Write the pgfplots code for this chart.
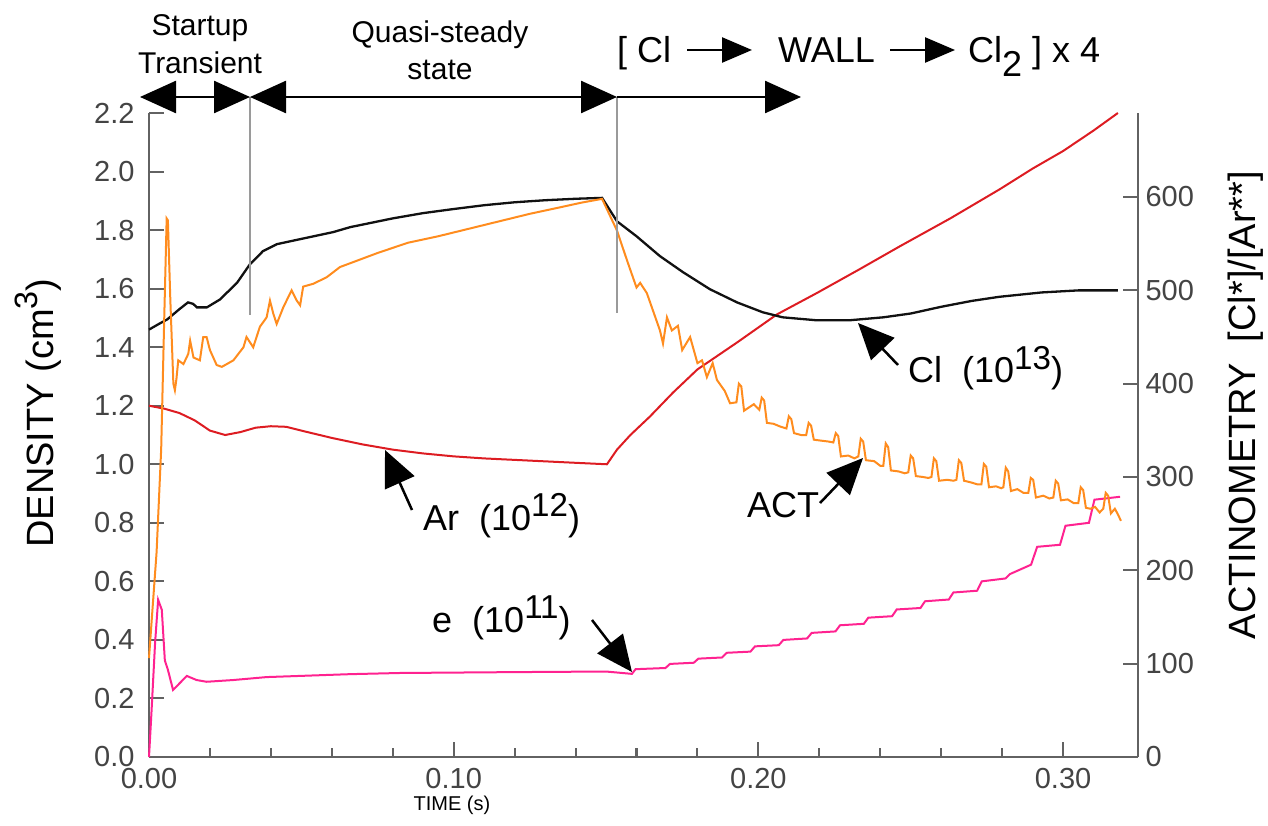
\documentclass[border=0pt]{standalone}
\usepackage{fontspec}
\setmainfont{Liberation Sans}
\usepackage{graphicx}
\usepackage{pgfplots}
\usepackage{pgfplotstable}
\pgfplotsset{compat=1.18}
\usetikzlibrary{arrows.meta}
\definecolor{cblack}{HTML}{111111}
\definecolor{corange}{HTML}{FF8C1E}
\definecolor{cred}{HTML}{DD1C22}
\definecolor{cpink}{HTML}{FF2290}
\definecolor{spine}{HTML}{626262}
\definecolor{ticktxt}{HTML}{444444}
\definecolor{vgray}{HTML}{9A9A9A}

\pgfplotstableread{
x y
0 1.460
0.003 1.478
0.006 1.495
0.010 1.530
0.0128 1.553
0.0145 1.548
0.0157 1.536
0.019 1.536
0.0233 1.563
0.0289 1.620
0.0331 1.683
0.0374 1.728
0.042 1.752
0.0496 1.769
0.0604 1.793
0.066 1.810
0.080 1.840
0.090 1.858
0.100 1.872
0.110 1.885
0.120 1.895
0.130 1.902
0.140 1.907
0.1487 1.910
0.1536 1.830
0.160 1.779
0.1677 1.711
0.1753 1.656
0.1841 1.598
0.193 1.553
0.2015 1.519
0.208 1.502
0.219 1.492
0.230 1.492
0.241 1.502
0.250 1.515
0.260 1.538
0.270 1.558
0.279 1.572
0.293 1.587
0.305 1.594
0.318 1.594
}\tblack

\pgfplotstableread{
x y
0 1.200
0.005 1.190
0.010 1.175
0.015 1.150
0.020 1.115
0.025 1.100
0.030 1.110
0.035 1.125
0.040 1.130
0.045 1.128
0.050 1.115
0.060 1.090
0.070 1.068
0.080 1.050
0.090 1.037
0.100 1.027
0.110 1.020
0.120 1.015
0.130 1.010
0.140 1.005
0.1503 1.000
0.1536 1.050
0.158 1.100
0.1644 1.163
0.172 1.245
0.180 1.324
0.193 1.416
0.2061 1.512
0.2192 1.585
0.233 1.665
0.2465 1.745
0.263 1.840
0.2793 1.940
0.290 2.010
0.300 2.070
0.310 2.140
0.318 2.200
}\tred

\pgfplotstableread{
x y
0 0.0
0.0008 0.15
0.0020 0.39
0.0030 0.537
0.0042 0.503
0.0052 0.33
0.0062 0.298
0.0079 0.229
0.0095 0.246
0.0124 0.277
0.0156 0.263
0.0189 0.257
0.0277 0.263
0.0386 0.273
0.066 0.283
0.0824 0.287
0.120 0.290
0.150 0.292
0.1585 0.284
0.1597 0.300
0.1695 0.304
0.1710 0.318
0.1788 0.322
0.1803 0.336
0.1881 0.340
0.1896 0.356
0.1974 0.360
0.1989 0.378
0.2067 0.382
0.2082 0.400
0.2160 0.405
0.2175 0.424
0.2253 0.429
0.2268 0.450
0.2346 0.455
0.2361 0.476
0.2439 0.481
0.2454 0.504
0.2532 0.509
0.2547 0.532
0.2625 0.538
0.2640 0.562
0.2718 0.568
0.2733 0.600
0.2811 0.610
0.2826 0.625
0.2895 0.657
0.2915 0.718
0.2990 0.725
0.3008 0.790
0.3085 0.800
0.3103 0.879
0.3187 0.889
}\tpink

\pgfplotstableread{
x y
0 106
0.0025 220
0.0040 330
0.0050 470
0.0058 577
0.0062 575
0.0070 490
0.0080 400
0.0085 393
0.0090 405
0.0096 425
0.0113 421
0.0129 432
0.0135 446
0.0146 428
0.0167 425
0.0178 450
0.0189 450
0.0200 436
0.0222 420
0.0239 418
0.0277 425
0.0310 439
0.0320 450
0.0342 439
0.0364 461
0.0386 471
0.0397 489
0.0408 475
0.0419 464
0.0441 482
0.0468 500
0.0485 489
0.0496 484
0.0506 504
0.0539 507
0.0583 514
0.0627 525
0.0660 529
0.0750 540
0.0850 551
0.0950 558
0.1050 566
0.1150 574
0.1250 582
0.1350 589
0.1420 594
0.1487 598
0.1536 564
0.1569 532
0.1600 503
0.1612 508
0.1634 497
0.1677 457
0.1687 443
0.1700 471
0.1716 457
0.1736 462
0.1750 436
0.1776 450
0.1800 422
0.1815 425
0.1831 407
0.1850 422
0.1864 404
0.1890 392
0.1907 379
0.1928 380
0.1936 400
0.1944 397
0.1953 371
0.1985 378
0.2003 372
0.2011 385
0.2019 382
0.2028 358
0.2050 357
0.2072 354
0.2092 352
0.2100 365
0.2108 362
0.2117 347
0.2140 345
0.2157 345
0.2165 358
0.2173 355
0.2182 340
0.2205 339
0.2230 338
0.2246 337
0.2254 347
0.2262 344
0.2271 322
0.2295 323
0.2315 320
0.2328 322
0.2336 341
0.2344 338
0.2353 318
0.2380 317
0.2400 312
0.2410 312
0.2418 336
0.2426 332
0.2435 307
0.2460 306
0.2480 304
0.2492 305
0.2500 323
0.2508 320
0.2517 301
0.2540 300
0.2558 299
0.2568 300
0.2576 320
0.2584 317
0.2593 296
0.2620 297
0.2640 296
0.2650 297
0.2658 318
0.2666 315
0.2675 296
0.2700 294
0.2720 292
0.2732 292
0.2740 314
0.2748 311
0.2757 289
0.2780 290
0.2797 288
0.2804 289
0.2812 310
0.2820 306
0.2829 285
0.2850 287
0.2870 283
0.2886 283
0.2894 299
0.2902 297
0.2911 278
0.2935 280
0.2955 277
0.2968 278
0.2976 296
0.2984 293
0.2993 275
0.3015 276
0.3035 272
0.3050 272
0.3058 289
0.3066 286
0.3075 267
0.3090 266
0.3105 268
0.3120 262
0.3132 266
0.3140 283
0.3148 280
0.3157 261
0.3170 266
0.3180 260
0.3190 253
}\tact

\begin{document}
\begin{tikzpicture}
\pgfplotsset{
  common/.style={
    scale only axis, width=989pt, height=644pt,
    at={(0pt,0pt)}, anchor=south west,
    xmin=0, xmax=0.3246,
    axis line style={spine, line width=2.2pt},
    tick style={spine, line width=2pt},
    tick align=inside,
    major tick length=15pt, minor tick length=9pt,
    ticklabel style={font=\fontsize{29}{29}\selectfont, text=ticktxt},
    /pgf/number format/assume math mode=true,
    clip=false,
  }
}
\begin{axis}[common,
  axis x line*=bottom, axis y line*=left,
  ymin=0, ymax=2.2,
  ytick={0,0.2,0.4,0.6,0.8,1.0,1.2,1.4,1.6,1.8,2.0,2.2},
  yticklabel style={/pgf/number format/fixed, /pgf/number format/fixed zerofill, /pgf/number format/precision=1},
  yticklabel style={xshift=-11pt},
  xtick={0,0.1,0.2,0.3}, minor x tick num=4,
  xticklabel style={/pgf/number format/fixed, /pgf/number format/fixed zerofill, /pgf/number format/precision=2},
  xticklabel style={yshift=-8pt},
]
\addplot[cred, line width=2pt] table[x=x,y=y] {\tred};
\addplot[cblack, line width=2.3pt] table[x=x,y=y] {\tblack};
\addplot[cpink, line width=2pt] table[x=x,y=y] {\tpink};
\end{axis}
\begin{axis}[common,
  axis y line*=right, axis x line=none,
  ymin=0, ymax=690,
  ytick={0,100,200,300,400,500,600},
  yticklabel style={xshift=4pt},
]
\addplot[corange, line width=2pt] table[x=x,y=y] {\tact};
\end{axis}

% vertical phase markers
\draw[vgray, line width=2.5pt] (101pt,660pt) -- (101pt,442pt);
\draw[vgray, line width=2.5pt] (468pt,660pt) -- (468pt,444pt);

% phase arrows
\draw[line width=2.5pt, {Triangle[length=36pt,width=32pt]}-{Triangle[length=36pt,width=32pt]}] (-9pt,660pt) -- (101pt,660pt);
\draw[line width=2.5pt, {Triangle[length=36pt,width=32pt]}-{Triangle[length=36pt,width=32pt]}] (101pt,660pt) -- (468pt,660pt);
\draw[line width=2.5pt, -{Triangle[length=36pt,width=32pt]}] (468pt,660pt) -- (652pt,660pt);

% top labels
\begin{scope}[every node/.style={font=\fontsize{30}{30}\selectfont, inner sep=0pt, anchor=base}]
\node at (51pt,721pt) {Startup};
\node at (51pt,683pt) {Transient};
\node at (291pt,714pt) {Quasi-steady};
\node at (291pt,677pt) {state};
\end{scope}

\begin{scope}[every node/.style={font=\fontsize{36}{36}\selectfont, inner sep=0pt, anchor=base west}]
\node at (468pt,694pt) {[\ Cl};
\node at (629pt,694pt) {WALL};
\node at (819pt,694pt) {Cl\raisebox{-0.38em}{2}\ ]\ x\ 4};
\end{scope}
\draw[line width=2.5pt, -{Triangle[length=30pt,width=25pt]}] (538pt,707pt) -- (603pt,707pt);
\draw[line width=2.5pt, -{Triangle[length=30pt,width=25pt]}] (741pt,707pt) -- (806pt,707pt);

% curve annotations
\begin{scope}[every node/.style={font=\fontsize{36}{36}\selectfont, inner sep=0pt, anchor=base west}]
\node at (274pt,227pt) {Ar\ \ (10\raisebox{0.38em}{\scalebox{0.92}{12}})};
\node at (759pt,374pt) {Cl\ \ (10\raisebox{0.38em}{\scalebox{0.92}{13}})};
\node at (598pt,240pt) {ACT};
\node at (283pt,125pt) {e\ \ (10\raisebox{0.38em}{\scalebox{0.92}{11}})};
\end{scope}
\draw[line width=2.5pt, -{Triangle[length=36pt,width=32pt]}] (263pt,247pt) -- (236pt,307pt);
\draw[line width=2.5pt, -{Triangle[length=36pt,width=32pt]}] (749pt,392pt) -- (709pt,434pt);
\draw[line width=2.5pt, -{Triangle[length=36pt,width=32pt]}] (671pt,254pt) -- (714pt,299pt);
\draw[line width=2.5pt, -{Triangle[length=36pt,width=32pt]}] (443pt,137pt) -- (483pt,85pt);

% axis titles
\node[rotate=90, font=\fontsize{38}{38}\selectfont, inner sep=0pt] at (-111pt,344pt) {DENSITY (cm\raisebox{0.42em}{\scalebox{0.85}{3}})};
\node[rotate=90, font=\fontsize{38}{38}\selectfont, inner sep=0pt] at (1097pt,352pt) {ACTINOMETRY\ \ [Cl*]/[Ar**]};
\node[font=\fontsize{20}{20}\selectfont, inner sep=0pt] at (303pt,-48pt) {TIME (s)};

\pgfresetboundingbox
\useasboundingbox (-149pt,-68pt) rectangle (1119pt,757pt);
\end{tikzpicture}
\end{document}
